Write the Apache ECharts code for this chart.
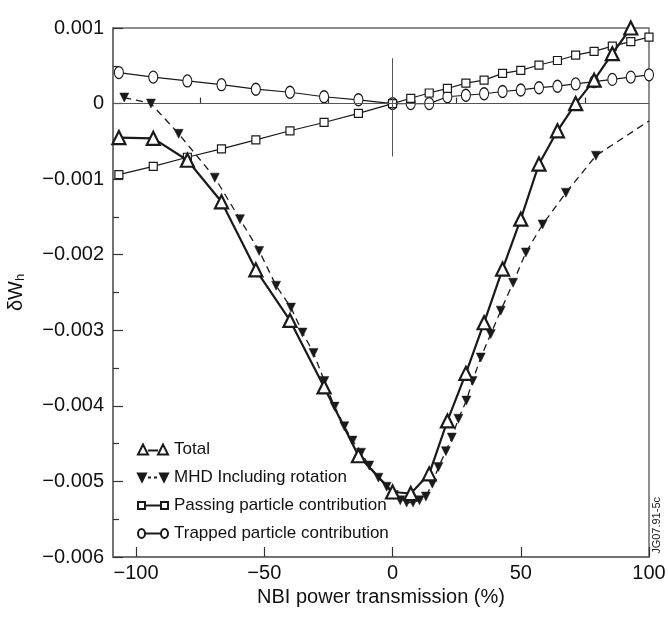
<!DOCTYPE html>
<html><head><meta charset="utf-8">
<script src="https://cdn.jsdelivr.net/npm/echarts@6/dist/echarts.min.js"></script>
<style>html,body{margin:0;padding:0;background:#fff}#c{width:668px;height:619px}</style>
</head><body><div id="c"></div>
<script>
const seriesNames = ['Total', 'MHD Including rotation', 'Passing particle contribution', 'Trapped particle contribution'];

const totalX = [-106.7,-93.3,-80,-66.7,-53.3,-40,-26.7,-13.3,0,7.1,14.3,21.4,28.6,35.7,42.9,50,57.1,64.3,71.4,78.6,85.7,92.9];
const totalY = [-0.00045,-0.00046,-0.00075,-0.0013,-0.0022,-0.00287,-0.00375,-0.00466,-0.00514,-0.00516,-0.0049,-0.0042,-0.00357,-0.0029,-0.00219,-0.00153,-0.0008,-0.00036,0.0,0.00031,0.00066,0.001];

const mhdX = [-104.6,-94.2,-83.4,-69.3,-59.5,-52,-45.4,-39.6,-35.1,-30.8,-26.6,-22.6,-18.8,-15.6,-12.3,-9.1,-5.5,-2.3,0.5,3,5.5,8,10.5,13,15.5,17.9,20.8,23.1,25.7,28.8,31.2,34.4,38.3,42.2,47,52,58.5,67.6,79.3,100];
const mhdY = [0.00008,0.0,-0.0004,-0.00098,-0.00153,-0.00195,-0.00241,-0.0027,-0.00303,-0.0033,-0.00367,-0.00401,-0.00427,-0.00446,-0.00462,-0.00479,-0.00495,-0.00507,-0.00518,-0.00525,-0.00528,-0.00528,-0.00525,-0.0052,-0.00503,-0.00481,-0.0046,-0.00442,-0.00417,-0.00393,-0.00367,-0.00336,-0.00305,-0.00274,-0.00237,-0.00197,-0.0016,-0.00118,-0.00069,-0.00023];

const passX = [-106.7,-93.3,-80,-66.7,-53.3,-40,-26.7,-13.3,0,7.1,14.3,21.4,28.6,35.7,42.9,50,57.1,64.3,71.4,78.6,85.7,92.9,100];
const passY = [-0.00094,-0.00083,-0.00071,-0.0006,-0.00048,-0.00036,-0.00025,-0.00013,0,0.00007,0.00014,0.0002,0.00027,0.00031,0.0004,0.00044,0.00051,0.00057,0.00064,0.00069,0.00076,0.00082,0.00088];

const trapX = [-106.7,-93.3,-80,-66.7,-53.3,-40,-26.7,-13.3,0,7.1,14.3,21.4,28.6,35.7,42.9,50,57.1,64.3,71.4,78.6,85.7,92.9,100];
const trapY = [0.00041,0.00035,0.0003,0.00025,0.00019,0.00015,0.00009,0.00005,0,0,0,0.00009,0.00011,0.00013,0.00016,0.00018,0.00021,0.00023,0.00026,0.00029,0.00032,0.00035,0.00038];

const xMajor = [-100, -50, 0, 50, 100];
const xMinor = [-75, -25, 25, 75];

const FONT = '"Liberation Sans", Arial, Helvetica, sans-serif';
const INK = '#1a1a1a';
const FRAME = '#6a6a6a';

function pairs(xs, ys) { return xs.map((x, i) => [x, ys[i]]); }

const mhdData = pairs(mhdX, mhdY).map((p, i) => i === mhdX.length - 1 ? { value: p, symbol: 'none' } : p);

const chart = echarts.init(document.getElementById('c'), null, { renderer: 'canvas' });
chart.setOption({
  animation: false,
  backgroundColor: '#fff',
  textStyle: { fontFamily: FONT },
  grid: { left: 113, right: 19, top: 28, bottom: 62, containLabel: false, outerBoundsMode: 'none',
    show: true, borderColor: FRAME, borderWidth: 1.5, backgroundColor: 'transparent' },
  xAxis: [{
    type: 'value', min: -109, max: 100,
    axisLine: { show: true, onZero: false, lineStyle: { color: FRAME, width: 1.5 } },
    axisTick: { show: true, inside: true, length: 10, customValues: xMajor, lineStyle: { color: '#333', width: 1.2 } },
    axisLabel: { customValues: xMajor, color: '#111', fontSize: 20, fontFamily: FONT, margin: 6,
      formatter: v => (v < 0 ? '\u2212' : '') + Math.abs(v) },
    splitLine: { show: false },
    name: 'NBI power transmission (%)', nameLocation: 'middle', nameGap: 30,
    nameTextStyle: { fontSize: 20, color: '#111', fontFamily: FONT, verticalAlign: 'top' }
  }, {
    type: 'value', min: -109, max: 100, position: 'bottom',
    axisLine: { show: false },
    axisTick: { show: true, inside: true, length: 6, customValues: xMinor, lineStyle: { color: '#333', width: 1.2 } },
    axisLabel: { show: false }, splitLine: { show: false }
  }],
  yAxis: [{
    type: 'value', min: -0.006, max: 0.001, interval: 0.001,
    axisLine: { show: true, onZero: false, lineStyle: { color: FRAME, width: 1.5 } },
    axisTick: { show: true, inside: true, length: 10, lineStyle: { color: '#333', width: 1.2 } },
    minorTick: { show: true, splitNumber: 2, length: 6, lineStyle: { color: '#333', width: 1.2 } },
    axisLabel: { color: '#111', fontSize: 20, fontFamily: FONT, margin: 9,
      formatter: v => { const r = Math.round(v * 1000); return r === 0 ? '0' : (r < 0 ? '\u2212' : '') + '0.00' + Math.abs(r); } },
    splitLine: { show: false }, minorSplitLine: { show: false },
    name: '{a|\u03B4W}{b|h}', nameLocation: 'middle', nameGap: 86, nameRotate: 90,
    nameTextStyle: { fontFamily: FONT, color: '#111', rich: { a: { fontSize: 20, fontFamily: FONT, color: '#111' }, b: { fontSize: 13, fontFamily: FONT, color: '#111', padding: [8, 0, 0, 0] } } }
  }],
  legend: {
    orient: 'vertical', left: 132, top: 436, itemWidth: 30, itemHeight: 11, itemGap: 11,
    textStyle: { fontSize: 17, color: '#111', fontFamily: FONT, padding: [0, 0, 0, 1] },
    selectedMode: false,
    data: [
      { name: seriesNames[0], icon: 'path://M0,11L5,1L10,11ZM10,7L20,7M20,11L25,1L30,11Z' },
      { name: seriesNames[1], icon: 'path://M0,1L8,1L4,9ZM10,5L13,5M16,5L19,5M22,1L30,1L26,9Z' },
      { name: seriesNames[2], icon: 'path://M0,2L7,2L7,9L0,9ZM7,5.5L23,5.5M23,2L30,2L30,9L23,9Z' },
      { name: seriesNames[3], icon: 'path://M0,5.5A3.5,4.5,0,1,1,7,5.5A3.5,4.5,0,1,1,0,5.5ZM7,5.5L23,5.5M23,5.5A3.5,4.5,0,1,1,30,5.5A3.5,4.5,0,1,1,23,5.5Z' }
    ]
  },
  graphic: [{
    type: 'text', left: 651, top: 497, rotation: Math.PI / 2,
    style: { text: 'JG07.91-5c', fontSize: 11, fontFamily: FONT, fill: '#222' }
  }],
  series: [
    {
      name: seriesNames[3], type: 'line', data: pairs(trapX, trapY), z: 3,
      symbol: 'circle', symbolSize: [9, 12], showAllSymbol: true,
      lineStyle: { color: INK, width: 1.2 },
      itemStyle: { color: '#fff', borderColor: INK, borderWidth: 1.2 }
    },
    {
      name: seriesNames[2], type: 'line', data: pairs(passX, passY), z: 4,
      symbol: 'rect', symbolSize: 8, showAllSymbol: true,
      lineStyle: { color: INK, width: 1.2 },
      itemStyle: { color: '#fff', borderColor: INK, borderWidth: 1.2 },
      markLine: {
        silent: true, symbol: 'none', label: { show: false },
        lineStyle: { color: '#555', type: 'solid', width: 1 },
        data: [ { yAxis: 0 }, [ { coord: [0, 0.0006] }, { coord: [0, -0.0007] } ] ]
      }
    },
    {
      name: seriesNames[1], type: 'line', data: mhdData, z: 5,
      symbol: 'triangle', symbolRotate: 180, symbolSize: 9, showAllSymbol: true,
      lineStyle: { color: INK, width: 1.3, type: [7, 5] },
      itemStyle: { color: INK, borderColor: INK, borderWidth: 0.5 }
    },
    {
      name: seriesNames[0], type: 'line', data: pairs(totalX, totalY), z: 6,
      symbol: 'triangle', symbolSize: 13, showAllSymbol: true,
      lineStyle: { color: INK, width: 2.2 },
      itemStyle: { color: '#fff', borderColor: INK, borderWidth: 2.2 }
    }
  ]
});
</script></body></html>
